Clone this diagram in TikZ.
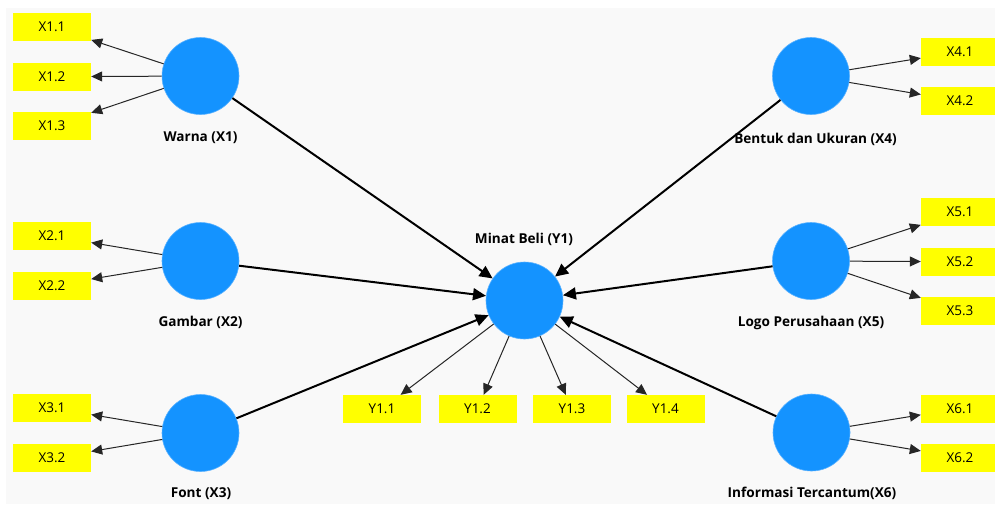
\documentclass[tikz,border=0pt]{standalone}
\usepackage{fontspec}
\setmainfont{Open Sans}
\usetikzlibrary{arrows.meta}
\definecolor{bg}{HTML}{F9F9F9}
\definecolor{lv}{HTML}{1493FF}
\definecolor{lvedge}{HTML}{5AB2FF}
\definecolor{ind}{HTML}{FFFF00}
\begin{document}
\begin{tikzpicture}[x=1pt,y=-1pt,
 lvar/.style={circle,fill=lv,draw=lvedge,line width=0.6pt,minimum size=77pt,inner sep=0pt},
 mvar/.style={rectangle,fill=ind,minimum width=78pt,minimum height=28pt,inner sep=0pt,font=\fontsize{13.5}{15}\selectfont},
 lab/.style={anchor=base,font=\bfseries\fontsize{13.6}{15}\selectfont},
 load/.style={draw=black!85,line width=1pt,-{Triangle[length=11pt,width=10pt]}},
 pathc/.style={draw=black,line width=2pt,-{Triangle[length=13pt,width=12pt]}},
]
\fill[white] (0,0) rectangle (995,504);
\fill[bg] (6,8) rectangle (995,504);
\useasboundingbox (0,0) rectangle (995,504);
% latent variables
\node[lvar] (X1) at (200.5,76) {};
\node[lvar] (X2) at (200.5,261) {};
\node[lvar] (X3) at (200.5,433) {};
\node[lvar] (Y1) at (524.5,300.5) {};
\node[lvar] (X4) at (811,76) {};
\node[lvar] (X5) at (811,261) {};
\node[lvar] (X6) at (811.5,432.5) {};
% indicators
\node[mvar] (X11) at (52,27) {X1.1};
\node[mvar] (X12) at (52,76.7) {X1.2};
\node[mvar] (X13) at (52,126) {X1.3};
\node[mvar] (X21) at (52,236) {X2.1};
\node[mvar] (X22) at (52,285.5) {X2.2};
\node[mvar] (X31) at (52,408) {X3.1};
\node[mvar] (X32) at (52,458) {X3.2};
\node[mvar] (X41) at (960,51.7) {X4.1};
\node[mvar] (X42) at (960,101) {X4.2};
\node[mvar] (X51) at (960,212) {X5.1};
\node[mvar] (X52) at (960,261.7) {X5.2};
\node[mvar] (X53) at (960,311) {X5.3};
\node[mvar] (X61) at (960,408.5) {X6.1};
\node[mvar] (X62) at (960,457.5) {X6.2};
\node[mvar] (Y11) at (382,409) {Y1.1};
\node[mvar] (Y12) at (477.5,409) {Y1.2};
\node[mvar] (Y13) at (572,409) {Y1.3};
\node[mvar] (Y14) at (665.5,409) {Y1.4};
% loadings
\foreach \a/\b in {X1/X11,X1/X12,X1/X13,X2/X21,X2/X22,X3/X31,X3/X32,X4/X41,X4/X42,X5/X51,X5/X52,X5/X53,X6/X61,X6/X62,Y1/Y11,Y1/Y12,Y1/Y13,Y1/Y14}
  \draw[load] (\a) -- (\b);
% structural paths
\foreach \a in {X1,X2,X3,X4,X5,X6}
  \draw[pathc] (\a) -- (Y1);
% labels
\node[lab] (L1) at (200.5,141) {Warna (X1)};
\node[lab] (L2) at (200.5,326.5) {Gambar (X2)};
\node[lab] (L3) at (201,497) {Font (X3)};
\node[lab] (LY) at (524,243) {Minat Beli (Y1)};
\node[lab] (L4) at (815.5,143) {Bentuk dan Ukuran (X4)};
\node[lab] (L5) at (811,326.5) {Logo Perusahaan (X5)};
\node[lab] (L6) at (812,497) {Informasi Tercantum(X6)};
\end{tikzpicture}
\end{document}
